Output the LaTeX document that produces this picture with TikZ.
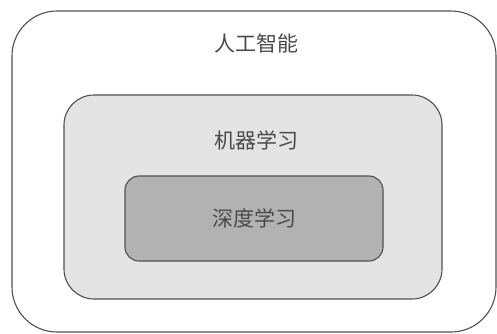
\documentclass[tikz,border=0pt]{standalone}
\usepackage{fontspec}
\newfontfamily\cjk{Noto Sans CJK SC}
\definecolor{edge}{HTML}{505050}
\definecolor{txt}{HTML}{4A4A4A}
\definecolor{midfill}{HTML}{E4E4E4}
\definecolor{innfill}{HTML}{B2B2B2}
\tikzset{
  boxA/.style={draw=edge, line width=1.1pt, inner sep=0pt},
  lbl/.style={text=txt, font=\cjk\fontsize{21}{25}\selectfont, inner sep=0pt}
}
\begin{document}
\begin{tikzpicture}[x=1pt,y=-1pt]
\useasboundingbox (0,0) rectangle (497,333);
\node[boxA, rounded corners=45pt, minimum width=484pt, minimum height=321pt] (ai) at (254,171.5) {};
\node[boxA, fill=midfill, rounded corners=30pt, minimum width=378pt, minimum height=204pt] (ml) at (253,197) {};
\node[boxA, fill=innfill, rounded corners=14pt, minimum width=258pt, minimum height=85pt, lbl] (dl) at (254,218.5) {深度学习};
\node[lbl] (ait) at (256,43) {人工智能};
\node[lbl] (mlt) at (256,140) {机器学习};
\end{tikzpicture}
\end{document}
